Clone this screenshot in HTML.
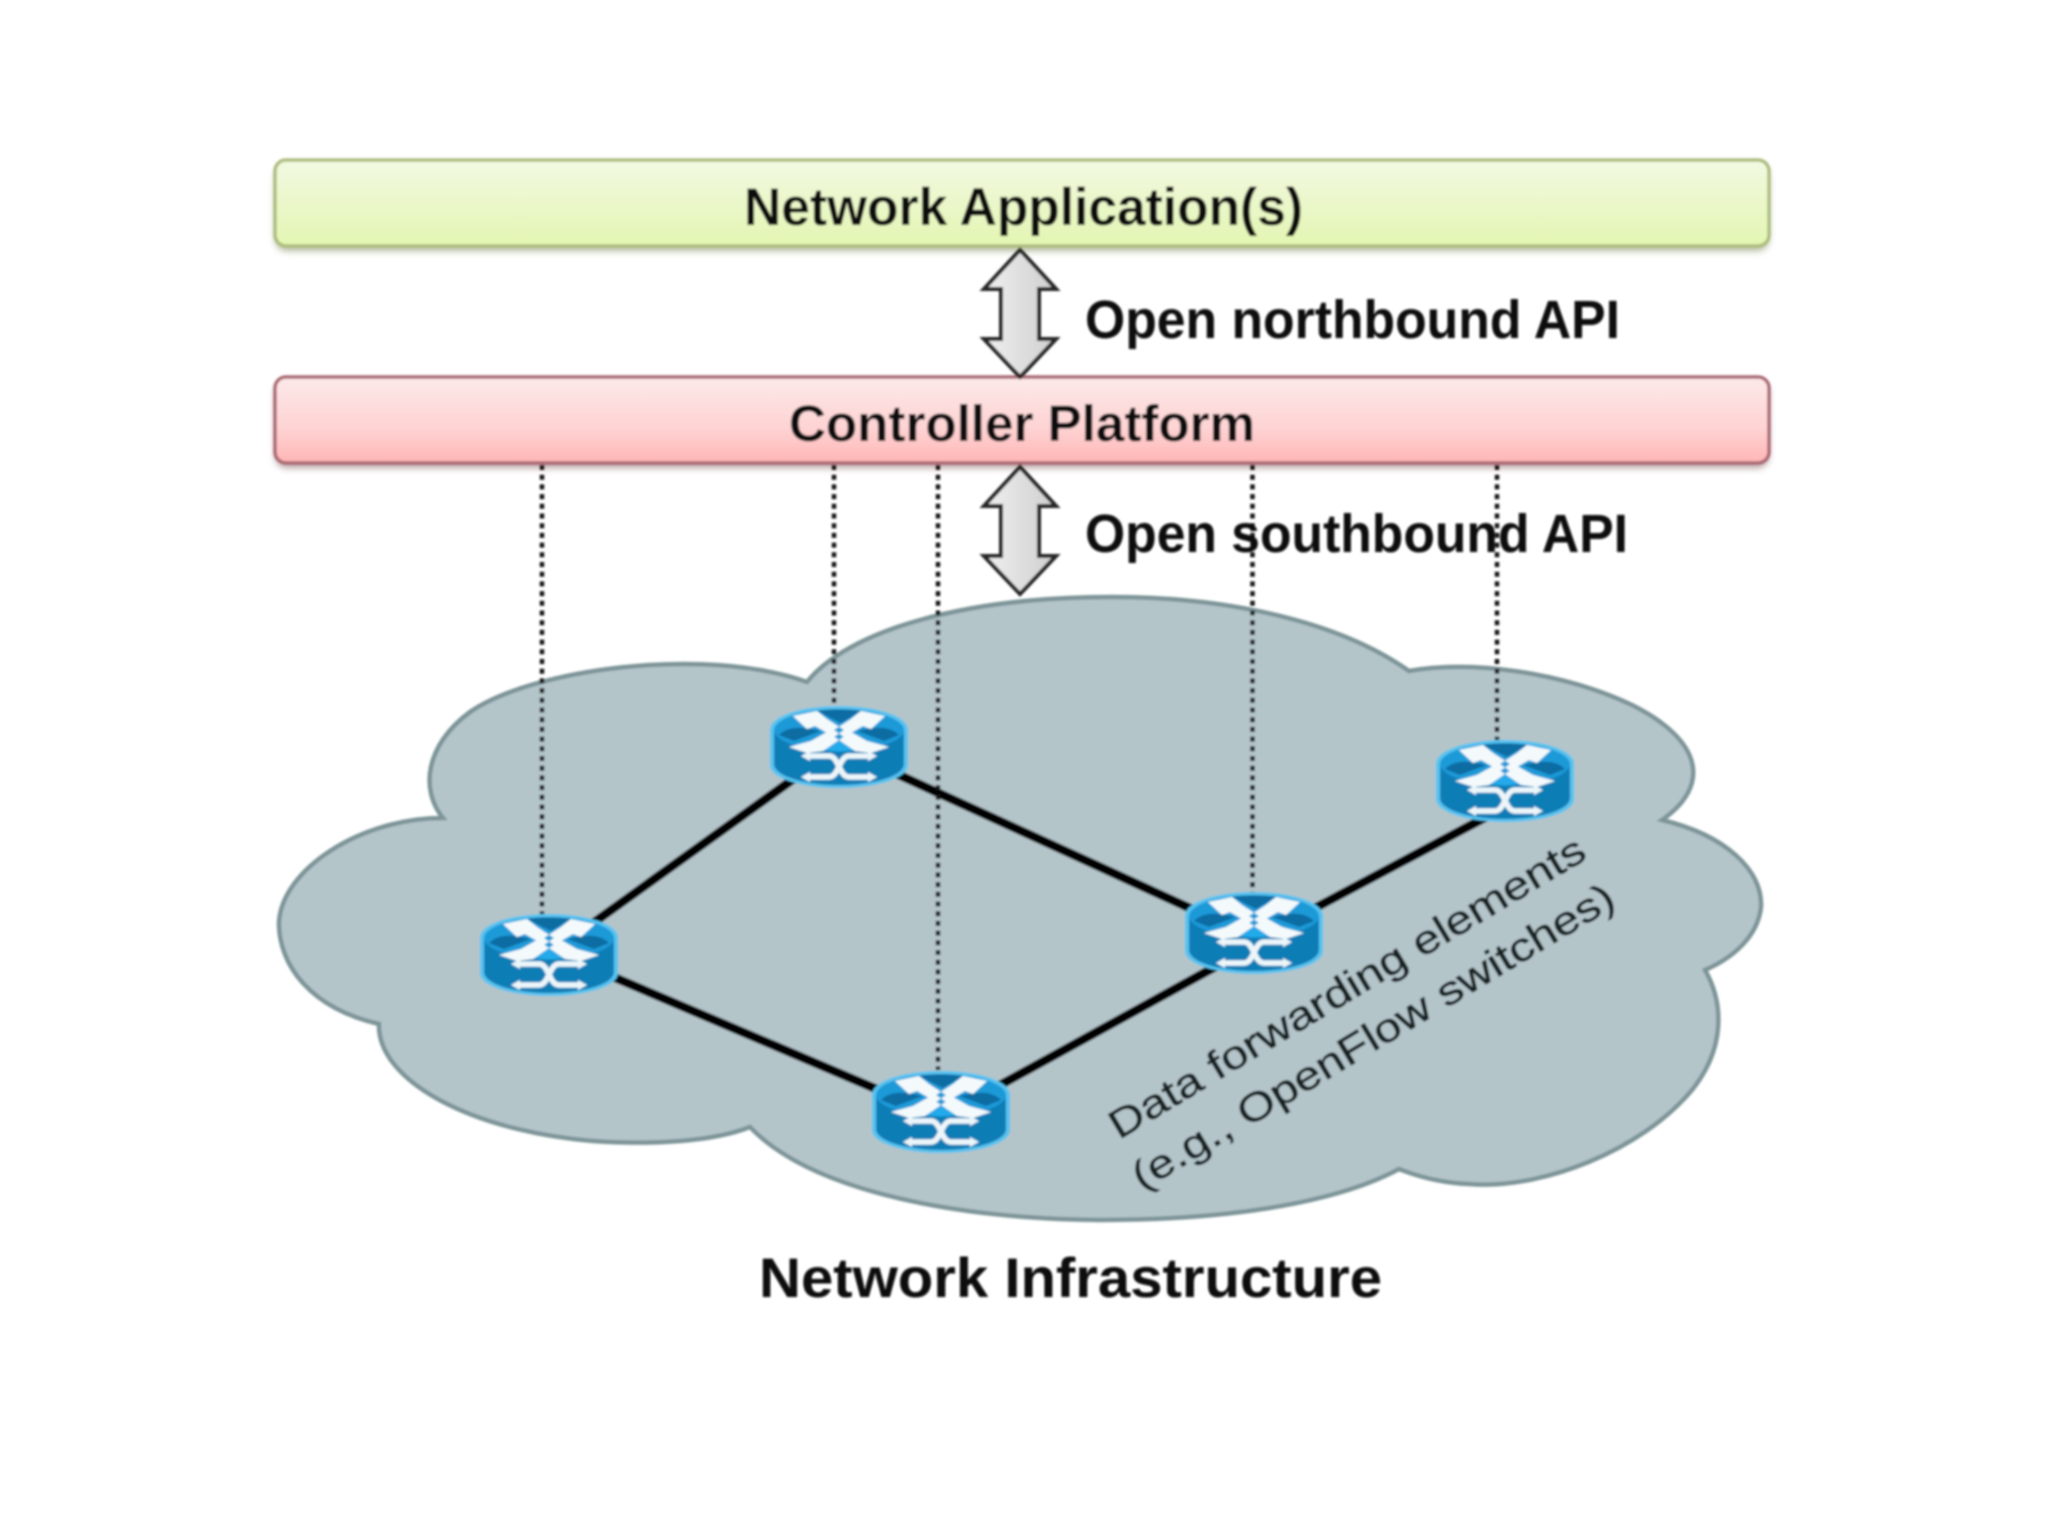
<!DOCTYPE html>
<html><head><meta charset="utf-8"><style>html,body{margin:0;padding:0;background:#fff}svg{display:block}text{font-family:"Liberation Sans",sans-serif;font-weight:bold;fill:#0a0a0a}</style></head>
<body>
<svg width="2048" height="1536" viewBox="0 0 2048 1536" xmlns="http://www.w3.org/2000/svg">
<defs>
<linearGradient id="g" x1="0" y1="0" x2="0" y2="1"><stop offset="0" stop-color="#f2f9e2"/><stop offset="1" stop-color="#e3f6b2"/></linearGradient>
<linearGradient id="p" x1="0" y1="0" x2="0" y2="1"><stop offset="0" stop-color="#fde9e9"/><stop offset="0.6" stop-color="#fed3d3"/><stop offset="1" stop-color="#ffb5b5"/></linearGradient>
<linearGradient id="a" x1="0" y1="0" x2="1" y2="0"><stop offset="0" stop-color="#efefef"/><stop offset="1" stop-color="#cfcfcf"/></linearGradient>
<filter id="b"><feGaussianBlur stdDeviation="1"/></filter>
<filter id="s" x="-2%" y="-20%" width="104%" height="150%"><feGaussianBlur stdDeviation="3.5"/></filter>
<path id="arr" d="M0 0L36 39H19V89H36L0 127L-36 89H-19V39H-36Z" fill="url(#a)" stroke="#262626" stroke-width="4" stroke-linejoin="miter"/>
<g id="r">
<path d="M-69 -17C-69 -32 -35 -41 0 -41S69 -32 69 -17V18C69 32 35 41 0 41S-69 32 -69 18Z" fill="#57c3f0"/>
<path d="M-65 -17V17C-65 29 -35 38 0 38S65 29 65 17V-17Z" fill="#0b7db6"/>
<ellipse cx="0" cy="-17" rx="65" ry="21" fill="#1b9ad8"/>
<path d="M-60 -12C-50 -22 -35 -20 -18 -16L-45 -6Z M60 -12C50 -22 35 -20 18 -16L45 -6Z M-22 -36C-10 -38 10 -38 22 -36L2 -24Z" fill="#0a6ca2"/>
<path d="M-14 3L0 -6L14 3C6 5 -6 5 -14 3Z" fill="#23aaea"/>
<path d="M-46 -31L-22 -36L-12 -28L5 -17L-5 -10L-24 -21L-32 -18Z M46 -31L22 -36L12 -28L-5 -17L5 -10L24 -21L32 -18Z M-50 0L-28 -6L-12 -15L0 -7L-16 4L-32 6Z M50 0L28 -6L12 -15L0 -7L16 4L32 6Z" fill="#f4fafc"/>
<path d="M-14 9H-10C0 9 0 30 10 30H14M-14 30H-10C0 30 0 9 10 9H14M-30 9H-14M14 9H30M-30 30H-14M14 30H30" fill="none" stroke="#ecf6fa" stroke-width="5.5"/>
<path d="M-38 9L-29 4V14Z M38 9L29 4V14Z M-38 30L-29 25V35Z M38 30L29 25V35Z" fill="#ecf6fa"/>
</g>
</defs>
<g filter="url(#b)">
<rect x="275" y="165" width="1494" height="86" rx="12" fill="#7e8a5c" opacity=".6" filter="url(#s)"/>
<rect x="275" y="160" width="1494" height="86" rx="11" fill="url(#g)" stroke="#aebd80" stroke-width="3.5"/>
<rect x="275" y="382" width="1494" height="86" rx="12" fill="#876464" opacity=".6" filter="url(#s)"/>
<rect x="275" y="377" width="1494" height="86" rx="11" fill="url(#p)" stroke="#ab6a74" stroke-width="3.5"/>
<text x="744" y="225" font-size="53" textLength="559" lengthAdjust="spacingAndGlyphs">Network Application(s)</text>
<text x="789" y="441" font-size="51" textLength="466" lengthAdjust="spacingAndGlyphs">Controller Platform</text>
<path d="M807 682C847 632 960 597 1112 597C1230 597 1340 622 1409 671C1472 660 1562 672 1632 705C1702 740 1712 785 1662 820C1725 835 1763 870 1761 907C1758 935 1735 957 1705 970C1725 1005 1724 1050 1692 1090C1642 1150 1542 1190 1469 1184C1442 1183 1417 1176 1399 1169C1332 1205 1220 1220 1099 1220C960 1219 812 1192 750 1127C712 1142 650 1145 593 1141C470 1131 377 1080 379 1024C310 1008 279 965 279 923C281 870 360 818 443 818C420 790 425 745 470 712C530 670 702 645 807 682Z" fill="#b4c5ca" stroke="#7d9498" stroke-width="4.5" stroke-linejoin="miter"/>
<g stroke="#060606" stroke-width="9" stroke-linecap="butt">
<line x1="550" y1="954" x2="838" y2="747"/>
<line x1="838" y1="747" x2="1255" y2="938"/>
<line x1="1255" y1="940" x2="1488" y2="816"/>
<line x1="550" y1="950" x2="942" y2="1117"/>
<line x1="942" y1="1117" x2="1255" y2="945"/>
</g>
<g stroke="#141414" stroke-width="4.5" stroke-dasharray="5 4.7" fill="none">
<line x1="542" y1="465" x2="542" y2="914"/>
<line x1="834" y1="465" x2="834" y2="705"/>
<line x1="938" y1="465" x2="938" y2="1070"/>
<line x1="1252.5" y1="465" x2="1252.5" y2="894"/>
<line x1="1497" y1="465" x2="1497" y2="740"/>
</g>
<use href="#arr" x="1020" y="250"/>
<use href="#arr" x="1020" y="467"/>
<text x="1085" y="338" font-size="54" textLength="535" lengthAdjust="spacingAndGlyphs">Open northbound API</text>
<text x="1085" y="552" font-size="54" textLength="543" lengthAdjust="spacingAndGlyphs">Open southbound API</text>
<use href="#r" x="549" y="955"/>
<use href="#r" x="839" y="747"/>
<use href="#r" x="1254" y="933"/>
<use href="#r" x="941" y="1112"/>
<use href="#r" x="1505" y="781"/>
<text transform="translate(1119 1140) rotate(-31)" font-size="40" textLength="548" lengthAdjust="spacingAndGlyphs" stroke="#142024" stroke-width=".7" style="font-weight:normal;fill:#142024">Data forwarding elements</text>
<text transform="translate(1142 1191) rotate(-31)" font-size="40" textLength="555" lengthAdjust="spacingAndGlyphs" stroke="#142024" stroke-width=".7" style="font-weight:normal;fill:#142024">(e.g., OpenFlow switches)</text>
<text x="759" y="1297" font-size="56" textLength="623" lengthAdjust="spacingAndGlyphs">Network Infrastructure</text>
</g>
</svg>
</body></html>
